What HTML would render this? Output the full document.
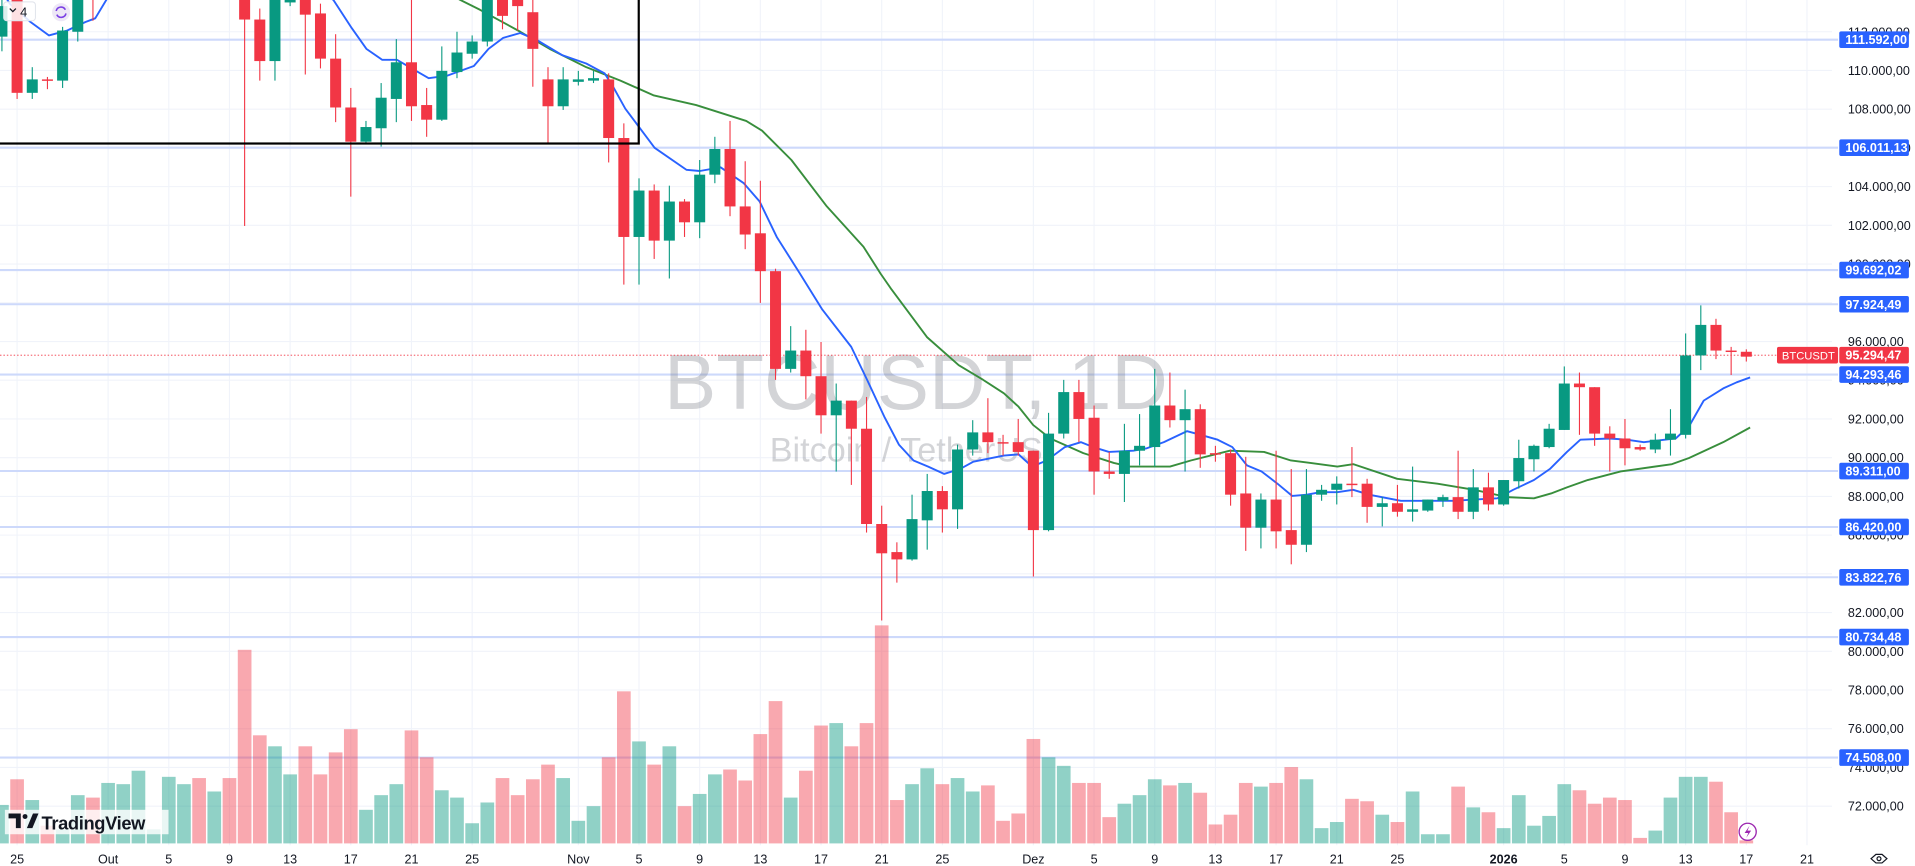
<!DOCTYPE html>
<html><head><meta charset="utf-8"><style>
html,body{margin:0;padding:0;background:#fff;overflow:hidden}
svg{display:block}
text{font-family:"Liberation Sans",Arial,sans-serif}
</style></head><body>
<svg id="c" width="1915" height="866" viewBox="0 0 1568 709" preserveAspectRatio="none" xmlns="http://www.w3.org/2000/svg">
<rect x="0" y="0" width="1568" height="709" fill="#fff"/>
<g id="grid"></g>
<g id="hl"></g>
<g id="vol"></g>
<g>
<text x="750" y="335" font-size="64" fill="#787b86" fill-opacity="0.33" text-anchor="middle">BTCUSDT, 1D</text>
<text x="742" y="378" font-size="28" fill="#787b86" fill-opacity="0.33" text-anchor="middle">Bitcoin / TetherUS</text>
</g>
<line x1="0" y1="290.8" x2="1460" y2="290.8" stroke="#f23645" stroke-width="0.8" stroke-dasharray="1.2 1.6"/>
<g id="ma"></g>
<g id="cd"></g>
<rect x="-2" y="-2" width="525" height="119.5" fill="none" stroke="#000" stroke-width="1.8"/>
<g id="axis" font-size="10.3" fill="#131722"></g>
<g id="tl" font-size="10.3" fill="#131722" text-anchor="middle"></g>
<g id="lbl"></g>
<rect x="3" y="1.5" width="26" height="15.5" rx="2.5" fill="#fff" fill-opacity="0.85" stroke="#e0e3eb" stroke-width="0.8"/>
<path d="M8 7 L10.5 9.5 L13 7" fill="none" stroke="#131722" stroke-width="1"/>
<text x="16.5" y="13.5" font-size="10.5" fill="#131722">4</text>
<circle cx="50" cy="10" r="7.4" fill="#ede7f6"/>
<path d="M46 9 A4 4 0 0 1 53.5 8 M54 11 A4 4 0 0 1 46.5 12" fill="none" stroke="#7b3fe4" stroke-width="1.3"/>
<rect x="4" y="663" width="134" height="20" fill="#fff" fill-opacity="0.8"/>
<path d="M7 666 h10 v12 h-4 v-8 h-6z" fill="#131722"/>
<circle cx="20.5" cy="668.5" r="2" fill="#131722"/>
<path d="M22 678 l5 -12 h4.5 l-5 12z" fill="#131722"/>
<text x="34" y="679" font-size="15" font-weight="bold" fill="#131722" letter-spacing="-0.3">TradingView</text>
<circle cx="1431" cy="681" r="7" fill="#fff" stroke="#9c27b0" stroke-width="1.1"/>
<path d="M1432.5 676 L1428.5 682 H1431.5 L1429.8 686 L1433.8 680 H1430.8 Z" fill="#9c27b0"/>
<path d="M1532 703 L1536 699.5 H1541 L1545 703 L1541 706.5 H1536 Z" fill="none" stroke="#131722" stroke-width="1"/>
<circle cx="1538.5" cy="703" r="1.6" fill="none" stroke="#131722" stroke-width="1"/>
</svg>
<script>
var NS="http://www.w3.org/2000/svg";
function el(p,t,a){var e=document.createElementNS(NS,t);for(var k in a)e.setAttribute(k,a[k]);p.appendChild(e);return e;}
function X(d){return 14+12.42*d;}
function Y(p){return 26+(112-p)*15.85;}
var g=document.getElementById('grid');
for(var p=72;p<=112;p+=2){el(g,'line',{x1:0,x2:1500,y1:Y(p),y2:Y(p),stroke:'#f0f3fa','stroke-width':0.9});}
var dates=[[0,'25'],[6,'Out'],[10,'5'],[14,'9'],[18,'13'],[22,'17'],[26,'21'],[30,'25'],[37,'Nov'],[41,'5'],[45,'9'],[49,'13'],[53,'17'],[57,'21'],[61,'25'],[67,'Dez'],[71,'5'],[75,'9'],[79,'13'],[83,'17'],[87,'21'],[91,'25'],[98,'2026'],[102,'5'],[106,'9'],[110,'13'],[114,'17'],[118,'21']];
var tl=document.getElementById('tl');
dates.forEach(function(q){var x=X(q[0]);el(g,'line',{x1:x,x2:x,y1:0,y2:692,stroke:'#f0f3fa','stroke-width':0.9});
var t=el(tl,'text',{x:x,y:707});t.textContent=q[1];if(q[1]=='2026')t.setAttribute('font-weight','bold');});
var lv=[[111.592,'111.592,00'],[106.01113,'106.011,13'],[99.69202,'99.692,02'],[97.92449,'97.924,49'],[94.29346,'94.293,46'],[89.311,'89.311,00'],[86.42,'86.420,00'],[83.82276,'83.822,76'],[80.73448,'80.734,48'],[74.508,'74.508,00']];
var hl=document.getElementById('hl');
lv.forEach(function(q){el(hl,'line',{x1:0,x2:1505,y1:Y(q[0]),y2:Y(q[0]),stroke:'#cdd9fb','stroke-width':1.7});});
var ax=document.getElementById('axis');
for(var p=72;p<=112;p+=2){var t=el(ax,'text',{x:1513,y:Y(p)+3.7});t.textContent=(p>=100?String(p).slice(0,3):String(p))+'.000,00';}
var lb=document.getElementById('lbl');
lv.forEach(function(q){var y=Y(q[0]);el(lb,'rect',{x:1506,y:y-6.8,width:57,height:13.6,rx:1.5,fill:'#2962ff'});
var t=el(lb,'text',{x:1511,y:y+3.7,'font-size':10.3,'font-weight':'bold',fill:'#fff'});t.textContent=q[1];});
el(lb,'rect',{x:1455,y:284,width:50,height:13.6,rx:1.5,fill:'#f23645'});
var t=el(lb,'text',{x:1459,y:294.5,'font-size':9.2,fill:'#fff'});t.textContent='BTCUSDT';
el(lb,'rect',{x:1506,y:284,width:57,height:13.6,rx:1.5,fill:'#f23645'});
t=el(lb,'text',{x:1511,y:294.5,'font-size':10.3,'font-weight':'bold',fill:'#fff'});t.textContent='95.294,47';
var V=[[-1,'G',659],[0,'R',638],[1,'G',655],[2,'R',676],[3,'G',679],[4,'G',651],[5,'R',653],[6,'G',641],[7,'G',642],[8,'G',631],[9,'G',679],[10,'G',636],[11,'G',642],[12,'R',637],[13,'G',648],[14,'R',637],[15,'R',532],[16,'R',602],[17,'G',611],[18,'G',634],[19,'R',611],[20,'R',634],[21,'R',616],[22,'R',597],[23,'G',663],[24,'G',651],[25,'G',642],[26,'R',598],[27,'R',620],[28,'G',647],[29,'G',653],[30,'G',674],[31,'G',657],[32,'R',637],[33,'R',651],[34,'R',638],[35,'R',626],[36,'G',637],[37,'G',672],[38,'G',660],[39,'R',620],[40,'R',566],[41,'G',607],[42,'R',626],[43,'G',611],[44,'R',660],[45,'G',650],
[46,'G',634],[47,'R',630],[48,'R',639],[49,'R',601],[50,'R',574],[51,'G',653],[52,'R',631],[53,'R',594],[54,'G',592],[55,'R',611],[56,'R',592],[57,'R',512],[58,'R',655],[59,'G',642],[60,'G',629],[61,'R',642],[62,'G',637],[63,'G',648],[64,'R',643],[65,'R',672],[66,'R',666],[67,'R',605],[68,'G',620],[69,'G',627],[70,'R',641],[71,'R',641],[72,'R',669],[73,'G',658],[74,'G',651],[75,'G',638],[76,'R',643],[77,'G',641],[78,'R',649],[79,'R',675],[80,'R',667],[81,'R',641],[82,'G',644],[83,'R',641],[84,'R',628],[85,'G',638],[86,'G',678],[87,'G',673],[88,'R',654],[89,'R',656],[90,'G',667],[91,'R',673],
[92,'G',648],[93,'G',683],[94,'G',683],[95,'R',644],[96,'G',661],[97,'R',665],[98,'G',678],[99,'G',651],[100,'G',676],[101,'G',668],[102,'G',642],[103,'R',647],[104,'R',658],[105,'R',653],[106,'R',655],[107,'R',686],[108,'G',680],[109,'G',653],[110,'G',636],[111,'G',636],[112,'R',640],[113,'R',665],[114,'R',688]];
var vg=document.getElementById('vol');
V.forEach(function(q){var x=X(q[0]);el(vg,'rect',{x:x-5.6,y:q[2],width:11.2,height:690.5-q[2],fill:q[1]=='G'?'rgba(8,153,129,0.45)':'rgba(242,54,69,0.43)'});});
var B=[[3,-5],[8,3],[25,18],[40,29],[55,25],[70,18],[78,15],[87,0],[95,-15],[180,-80],[260,-10],[273,0],[288,23],[300,40],[313,49],[325,49],[351,64],[366,62],[388,54],[400,40],[412,31],[426,27],[440,33],[460,45],[480,52],[495,60],[502,71],[512,89],[536,121],[562,139],[573,140],[590,137],[609,150],[622,165],[636,194],[655,224],[673,253],[697,284],[710,311],[724,341],[736,364],[748,377],[760,382],[773,388],[786,384],[797,378],[822,373],[834,372],[845,382],[857,377],[872,366],[885,362],[895,366],[908,370],[928,369],[939,367],[953,362],[972,353],[983,356],[997,360],[1009,366],[1021,381],[1033,386],[1046,396],[1058,406],[1070,405],[1081,403],[1095,403],[1108,401],[1121,405],[1147,410],[1163,410],[1190,410],[1207,409],[1226,408],[1239,401],[1256,393],[1269,384],[1283,370],[1294,360],[1318,359],[1332,360],[1346,362],[1372,359],[1383,349],[1395,328],[1411,318],[1422,313],[1433,309]];
var G=[[340,-20],[377,0],[393,8],[426,26],[450,40],[480,55],[508,66],[535,78],[570,86],[611,99],[624,107],[648,131],[677,169],[707,202],[721,224],[730,237],[759,276],[785,299],[805,311],[822,322],[834,333],[846,348],[860,359],[887,371],[912,379],[925,382],[958,382],[975,377],[1007,369],[1035,370],[1057,377],[1073,379],[1095,382],[1108,380],[1144,392],[1177,396],[1207,401],[1234,407],[1256,408],[1270,404],[1283,399],[1300,393],[1327,386],[1369,380],[1383,375],[1411,362],[1433,350]];
var mg=document.getElementById('ma');
function pl(a,c){el(mg,'polyline',{points:a.map(function(p){return p.join(',')}).join(' '),fill:'none',stroke:c,'stroke-width':1.55,'stroke-linejoin':'round'});}
pl(G,'#388e3c');pl(B,'#2962ff');
var C=[[-1,'G',30,5,-5,42],[0,'R',-5,76,-10,81],[1,'G',76,65,55,81],[2,'R',65,66,63,73],[3,'G',66,25,22,72],[4,'G',26,-10,-20,34],[5,'R',-30,-5,-40,17],
[15,'R',-40,16,-60,185],[16,'R',16,50,7,66],[17,'G',50,-20,-30,66],[18,'G',2,-15,-20,5],[19,'R',0,12,-5,61],[20,'R',11,48,3,56],[21,'R',48,88,28,100],[22,'R',88,116,72,161],[23,'G',116,104,99,117],[24,'G',105,80,68,120],[25,'G',81,51,32,100],[26,'R',51,87,0,99],[27,'R',86,98,72,112],[28,'G',98,58,38,99],[29,'G',59,43,26,64],[30,'G',44,34,29,48],[31,'G',34,-10,-20,38],[32,'R',-15,13,-20,24],[33,'R',-5,5,-20,25],[34,'R',10,40,0,71],
[35,'R',65,87,55,117],[36,'G',87,65,55,90],[37,'G',67,65,58,70],[38,'G',66,64,58,68],[39,'R',65,113,60,133],[40,'R',113,194,101,233],[41,'G',194,156,146,233],[42,'R',156,197,151,212],[43,'G',197,165,152,228],[44,'R',165,182,163,194],[45,'G',182,143,131,195],[46,'G',143,122,112,150],[47,'R',122,169,99,177],[48,'R',169,192,132,204],[49,'R',191,222,148,248],[50,'R',222,302,220,311],[51,'G',302,287,267,305],[52,'R',287,308,270,327],[53,'R',308,340,280,355],[54,'G',340,328,314,386],[55,'R',328,351,328,397],[56,'R',351,429,325,436],[57,'R',429,453,414,508],[58,'R',452,458,444,477],[59,'G',458,425,405,459],[60,'G',426,402,388,450],[61,'R',402,417,398,436],[62,'G',417,368,364,433],[63,'G',368,354,344,373],[64,'R',354,362,326,371],[65,'R',362,363,356,373],[66,'R',362,370,343,373],[67,'R',369,434,369,472],[68,'G',434,355,338,435],[69,'G',355,321,311,359],[70,'R',321,343,311,362],[71,'R',342,386,332,405],[72,'R',386,388,370,392],[73,'G',388,369,347,411],[74,'G',369,365,339,381],[75,'G',366,332,302,382],[76,'R',332,344,305,350],[77,'G',344,335,319,386],[78,'R',335,372,331,383],[79,'R',371,372,365,378],[80,'R',371,405,368,414],[81,'R',404,432,374,451],[82,'G',432,409,404,449],[83,'R',409,435,369,449],[84,'R',434,446,384,462],[85,'G',446,405,384,452],[86,'G',405,401,397,410],[87,'G',401,396,390,413],[88,'R',396,397,366,407],[89,'R',396,415,392,428],[90,'G',415,412,407,431],[91,'R',412,419,397,423],[92,'G',419,417,382,427],[93,'G',418,409,409,419],[94,'G',410,407,405,415],[95,'R',407,419,369,425],[96,'G',419,399,384,425],[97,'R',399,413,387,418],[98,'G',413,393,393,414],[99,'G',394,375,360,400],[100,'G',376,365,364,386],[101,'G',366,351,347,367],[102,'G',352,314,300,352],[103,'R',314,317,305,356],[104,'R',317,355,317,365],[105,'R',355,359,349,386],[106,'R',359,367,343,381],[107,'R',366,368,364,369],[108,'G',368,360,355,371],[109,'G',360,355,335,373],[110,'G',356,291,273,359],[111,'G',291,266,250,303],[112,'R',266,287,261,294],[113,'R',287,288,284,307],[114,'R',288,292,286,296]];
var cg=document.getElementById('cd');
C.forEach(function(q){var x=X(q[0]);var col=q[1]=='G'?'#089981':'#f23645';
el(cg,'rect',{x:x-0.45,y:q[4],width:0.9,height:q[5]-q[4],fill:col});
var t=Math.min(q[2],q[3]),b=Math.max(q[2],q[3]);if(b-t<1.2){b=t+1.2;}
el(cg,'rect',{x:x-4.5,y:t,width:9,height:b-t,fill:col});});
</script>
</body></html>
